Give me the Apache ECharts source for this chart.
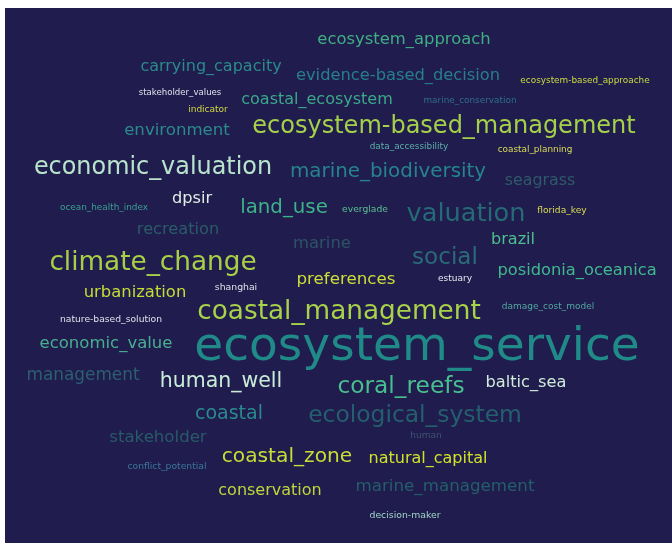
<!DOCTYPE html>
<html>
<head>
<meta charset="utf-8">
<script src="https://cdn.jsdelivr.net/npm/echarts@6/dist/echarts.min.js"></script>
<style>html,body{margin:0;padding:0;background:#fff}#c{width:672px;height:543px}</style>
</head>
<body>
<div id="c"></div>
<script>
// keyword list and their relative weights (frequency score)
const words = ["ecosystem_approach","carrying_capacity","evidence-based_decision","ecosystem-based_approache","stakeholder_values","coastal_ecosystem","marine_conservation","indicator","environment","ecosystem-based_management","data_accessibility","coastal_planning","economic_valuation","marine_biodiversity","seagrass","dpsir","ocean_health_index","land_use","everglade","valuation","florida_key","recreation","marine","brazil","social","climate_change","posidonia_oceanica","preferences","estuary","urbanization","shanghai","coastal_management","damage_cost_model","nature-based_solution","economic_value","ecosystem_service","management","human_well","coral_reefs","baltic_sea","coastal","ecological_system","stakeholder","human","coastal_zone","conflict_potential","natural_capital","conservation","marine_management","decision-maker"];
const weights = [16.4,16,16.3,8.9,8.6,16,8.9,9,16.6,24,8.9,8.9,23.9,19.9,15.9,16.2,8.9,19.8,9.2,25.6,9.1,16.2,16.4,16.1,23.1,26.3,16.3,16.7,9,16.4,9.3,26.3,9,9.2,16.5,47,16.9,20.5,23.3,16.2,19,23.4,16.6,9,20.2,9.2,16,16,16.7,9.3];
// word-cloud placement (layout coordinates, not data)
const layoutX = [404,211,398,585,180,317,470,208,177,444,409,535,153,388,540,192,104,284,365,466,562,178,322,513,445,153,577,346,455,135,236,339,548,111,106,417,83,221,401,526,229,415,158,426,287,167,428,270,445,405];
const layoutY = [40,67,76,81,93,100,101,110,131,127,147,150,168,172,181,199,208,208,210,214,211,230,244,240,258,263,271,280,279,293,288,312,307,320,344,348,376,382,387,383,414,416,438,436,457,467,459,491,487,516];
const colors = ["#3fae84","#2a8c8a","#277f8a","#c8dc40","#e0e0ea","#3aa88a","#2c6f88","#d0d840","#2a8a8a","#a5d04a","#5ab0a8","#d8dc58","#b8e4cc","#25848c","#2e5a6a","#e0ece4","#3aa090","#3db38a","#58c090","#246b75","#d8dc50","#2a5c68","#2a5466","#4cbf8c","#2a6b78","#a8d046","#40b88e","#cbdf38","#e8e8f0","#c4dc34","#e0e0e8","#a8d24a","#50a8a0","#e0e0ea","#48b090","#1f8a88","#2a6070","#c8ecd8","#48bf8e","#d0ecd8","#2a8a8c","#245f6e","#285a68","#3a5470","#c8de36","#3a7898","#d0e22a","#bdd63a","#235f6a","#a0d8c8"];

const chart = echarts.init(document.getElementById('c'), null, {renderer:'canvas'});
const data = words.map((w,i)=>({
  name: w,
  value: [layoutX[i], layoutY[i], weights[i]],
  label: {color: colors[i], fontSize: weights[i]}
}));
chart.setOption({
  animation:false,
  backgroundColor:'#ffffff',
  grid:{left:5,top:8,right:0,bottom:0,show:true,backgroundColor:'#211c4e',borderWidth:0},
  xAxis:{type:'value',min:5,max:672,show:false},
  yAxis:{type:'value',min:8,max:543,inverse:true,show:false},
  series:[{
    type:'scatter',
    symbolSize:0,
    silent:true,
    itemStyle:{opacity:1},
    data:data,
    label:{show:true,position:'inside',formatter:'{b}',align:'center',verticalAlign:'middle',fontFamily:'DejaVu Sans',opacity:1}
  }]
});
</script>
</body>
</html>
